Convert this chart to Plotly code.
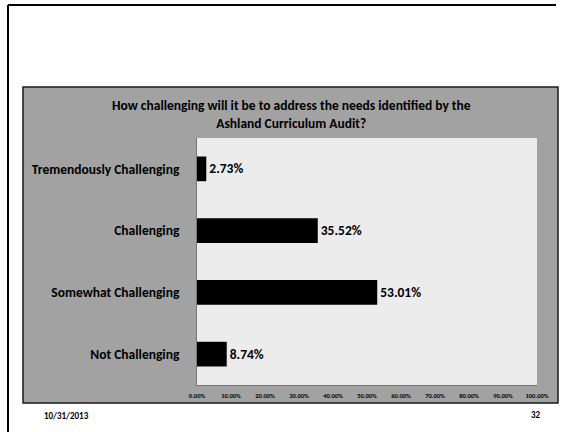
import plotly.graph_objects as go

categories = ["Tremendously Challenging", "Challenging", "Somewhat Challenging", "Not Challenging"]
values = [0.0273, 0.3552, 0.5301, 0.0874]
value_labels = ["2.73%", "35.52%", "53.01%", "8.74%"]
tick_vals = [0.0, 0.1, 0.2, 0.3, 0.4, 0.5, 0.6, 0.7, 0.8, 0.9, 1.0]
tick_text = ["0.00%", "10.00%", "20.00%", "30.00%", "40.00%", "50.00%",
             "60.00%", "70.00%", "80.00%", "90.00%", "100.00%"]
title_text = "How challenging will it be to address the needs identified by the<br>Ashland Curriculum Audit?"
footer_date = "10/31/2013"
footer_page = "32"

W, H = 565, 432
L, R, T, B = 197, 537, 138, 385
FONT = "Carlito, DejaVu Sans Condensed, Liberation Sans, Arial"


def px(x):
    return (x - L) / (R - L)


def py(y):
    return (B - y) / (B - T)


fig = go.Figure()
fig.add_trace(go.Bar(
    x=values, y=categories, orientation="h",
    marker=dict(color="black", line=dict(width=0)),
    width=0.4,
    text=value_labels, textposition="outside", cliponaxis=False,
    textfont=dict(family=FONT, size=13.5, color="black", weight="bold"),
))

shapes = [
    dict(type="rect", xref="paper", yref="paper", x0=px(23), x1=px(558), y0=py(403), y1=py(87),
         fillcolor="#a2a2a2", line=dict(color="#1a1a1a", width=1.5), layer="below"),
    dict(type="rect", xref="paper", yref="paper", x0=px(197), x1=px(537), y0=py(385), y1=py(138),
         fillcolor="#ececec", line=dict(width=0), layer="below"),
    dict(type="line", xref="paper", yref="paper", x0=px(8), x1=px(8), y0=py(5), y1=py(432),
         line=dict(color="black", width=2)),
    dict(type="line", xref="paper", yref="paper", x0=px(8), x1=px(556), y0=py(5), y1=py(5),
         line=dict(color="black", width=2)),
]

annotations = [
    dict(text=title_text, xref="paper", yref="paper", x=px(291), y=py(114), showarrow=False,
         xanchor="center", yanchor="middle",
         font=dict(family=FONT, size=13.5, color="black", weight="bold")),
    dict(text=footer_date, xref="paper", yref="paper", x=px(42), y=py(415), showarrow=False,
         xanchor="left", yanchor="middle",
         font=dict(family=FONT, size=9, color="black", weight="bold")),
    dict(text=footer_page, xref="paper", yref="paper", x=px(536), y=py(414), showarrow=False,
         xanchor="center", yanchor="middle",
         font=dict(family=FONT, size=9, color="black", weight="bold")),
]

fig.update_layout(
    width=W, height=H,
    margin=dict(l=L, r=W - R, t=T, b=H - B, pad=0),
    paper_bgcolor="white", plot_bgcolor="rgba(0,0,0,0)",
    showlegend=False,
    shapes=shapes, annotations=annotations,
    xaxis=dict(range=[0, 1], tickvals=tick_vals, ticktext=tick_text, showgrid=False,
               zeroline=False, showline=True, linecolor="#777777", linewidth=1,
               ticks="", ticklabelstandoff=4,
               tickfont=dict(family=FONT, size=6.5, color="black", weight="bold")),
    yaxis=dict(categoryorder="array", categoryarray=categories, autorange="reversed",
               showgrid=False, zeroline=False, showline=True, linecolor="#777777", linewidth=1,
               ticks="", ticklabelstandoff=14,
               tickfont=dict(family=FONT, size=13.5, color="black", weight="bold")),
)

fig.write_html("out.html")
